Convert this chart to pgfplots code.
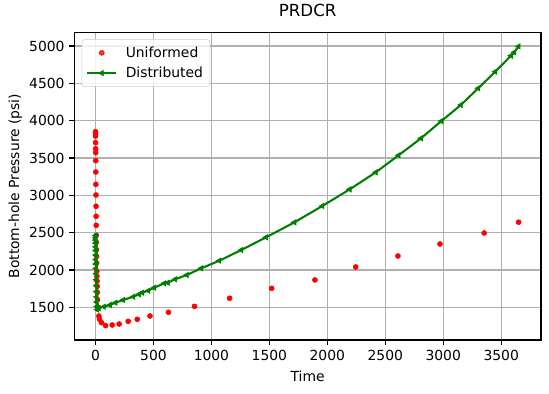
\documentclass[border=0pt]{standalone}
\usepackage{pgfplots}
\pgfplotsset{compat=1.18}
\usepackage{fontspec}
\setmainfont{DejaVu Sans}
\definecolor{mplgreen}{rgb}{0,0.5,0}
\definecolor{gridgray}{HTML}{B0B0B0}
\definecolor{legendedge}{HTML}{CCCCCC}
\begin{document}
\begin{tikzpicture}
\begin{axis}[
  at={(0,0)}, anchor=south west,
  scale only axis, width=336pt, height=221.5pt,
  xmin=-183, xmax=3843, ymin=1062, ymax=5183,
  xtick={0,500,...,3500}, ytick={1500,2000,...,5000},
  scaled ticks=false,
  /pgf/number format/1000 sep={},
  /pgf/number format/assume math mode=true,
  tick label style={font=\fontsize{10}{12}\selectfont},
  tick pos=left, tick align=outside,
  major tick length=3.5pt,
  every tick/.style={black, line width=0.8pt},
  axis line style={black, line width=0.8pt},
  grid=major,
  major grid style={gridgray, line width=0.8pt},
  title={PRDCR},
  title style={at={(axis description cs:0.5,1)}, anchor=south, yshift=2pt, font=\fontsize{12}{14}\selectfont},
  xlabel={Time},
  xlabel style={at={(axis description cs:0.5,-0.117)}, anchor=center, font=\fontsize{10}{12}\selectfont},
  ylabel={Bottom-hole Pressure (psi)},
  ylabel style={at={(axis description cs:-0.1265,0.5)}, anchor=center, font=\fontsize{10}{12}\selectfont},
  legend cell align=left,
  legend style={at={(axis description cs:0,1)}, anchor=north west, xshift=5.3pt, yshift=-5pt,
    draw=legendedge, rounded corners=2pt, fill=white, fill opacity=0.8, text opacity=1,
    font=\fontsize{10}{12}\selectfont, row sep=1.5pt, inner sep=3pt,
    /tikz/every odd column/.append style={column sep=4pt}},
  legend image code/.code={\draw[mark repeat=2, mark phase=2, #1] plot coordinates {(0cm,0cm) (0.37cm,0cm) (0.74cm,0cm)};},
]
\addplot[only marks, mark=*, mark size=1.8pt, red, mark options={draw=red, fill=red}] coordinates {
(0,3852) (0.2,3831) (0.4,3794) (0.8,3705) (1.2,3624) (1.5,3571) (2,3464) (2.7,3312)
(3.4,3147) (4,3004) (4.7,2853) (5.4,2719) (6,2598) (6.8,2464) (7.5,2370) (8.2,2271)
(9,2183) (10,2093) (11,1982) (12,1915) (13,1850) (14.5,1781) (16,1700) (18,1602)
(21,1500) (29,1383) (35,1339) (52,1294) (87,1254) (144,1263) (204,1276) (282,1312)
(360,1339) (470,1383) (629,1433) (854,1513) (1157,1621) (1520,1754) (1893,1866)
(2245,2040) (2609,2187) (2972,2348) (3353,2495) (3650,2640)
};
\addlegendentry{Uniformed}
\addplot[mplgreen, line width=1.5pt, mark=triangle*, mark size=2.2pt, mark options={solid, rotate=90, line width=0.5pt, fill=mplgreen}] coordinates {
(0,2460) (0.3,2430) (0.6,2400) (1,2360) (1.5,2310) (2,2260) (2.5,2200) (3,2140)
(3.5,2080) (4,2020) (5,1950) (6,1870) (7,1790) (8,1710) (9,1640) (10,1570)
(12,1510) (14,1470) (29,1487) (72,1508) (124,1531) (173,1562) (239,1598) (326,1642)
(375,1674) (403,1696) (455,1722) (507,1763) (594,1821) (623,1829) (687,1875)
(788,1933) (912,2022) (1068,2124) (1258,2267) (1472,2438) (1716,2638) (1957,2857)
(2193,3080) (2418,3308) (2615,3536) (2808,3764) (2984,3995) (3152,4210) (3302,4434)
(3449,4656) (3584,4870) (3613,4916) (3650,4995)
};
\addlegendentry{Distributed}
\end{axis}
\pgfresetboundingbox
\path (-53.5pt,-38.2pt) rectangle (341.8pt,244.8pt);
\end{tikzpicture}
\end{document}
